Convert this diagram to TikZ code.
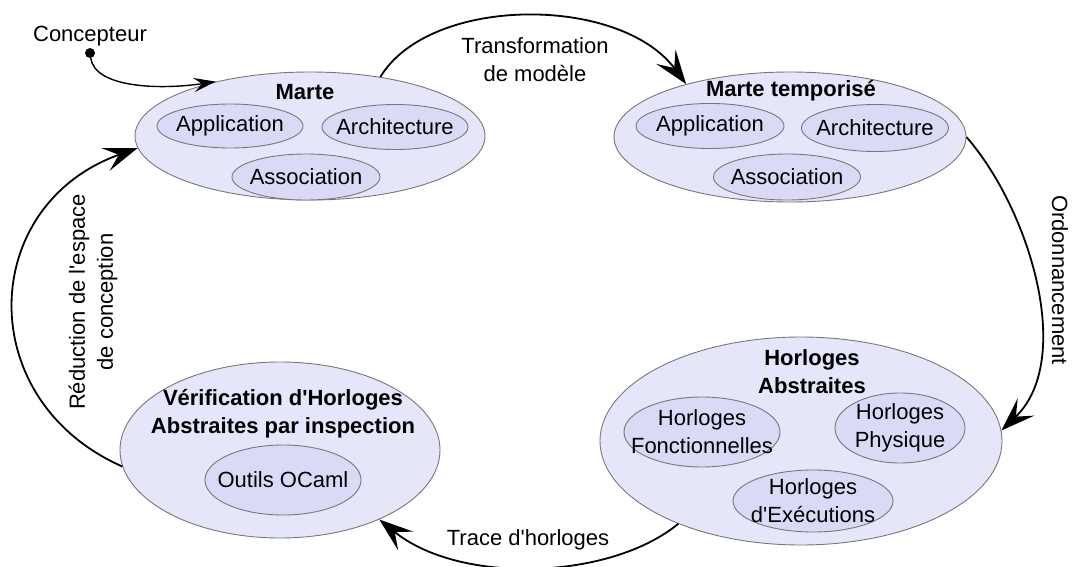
\documentclass[tikz,border=0pt]{standalone}
\usepackage{fontspec}
\setmainfont{Liberation Sans}[Ligatures=TeXOff]
\usetikzlibrary{arrows.meta,shapes.geometric}
\definecolor{outerfill}{RGB}{230,230,250}
\definecolor{innerfill}{RGB}{218,218,246}
\definecolor{edgegray}{RGB}{120,120,120}
\begin{document}
\begin{tikzpicture}[x=1pt,y=-1pt,
  font=\fontsize{22}{28}\selectfont,
  outer/.style={ellipse, draw=edgegray, fill=outerfill, line width=0.9pt, inner sep=0pt},
  innerel/.style={ellipse, draw=edgegray, fill=innerfill, line width=0.9pt, inner sep=0pt},
  title/.style={font=\fontsize{22}{28}\selectfont\bfseries, align=center, inner sep=0pt},
  txt/.style={align=center, inner sep=0pt},
  flow/.style={line width=1.8pt, -{Stealth[length=34pt,width=24pt,inset=14pt]}},
  feed/.style={line width=1.4pt, -{Stealth[length=22pt,width=14pt,inset=8pt]}}
]
\useasboundingbox (0,0) rectangle (1072,567);

% Marte
\node[outer, minimum width=350pt, minimum height=128pt] (marte) at (310,136) {};
\node[title] (martet) at (305,92) {Marte};
\node[innerel, minimum width=146pt, minimum height=44pt, label={[txt]center:Application}] (mapp) at (230,126) {};
\node[innerel, minimum width=146pt, minimum height=45pt, label={[txt]center:Architecture}] (march) at (395,127) {};
\node[innerel, minimum width=148pt, minimum height=46pt, label={[txt]center:Association}] (massoc) at (306,177) {};

% Marte temporise
\node[outer, minimum width=352pt, minimum height=130pt] (mt) at (790,137) {};
\node[title] (mtt) at (791,91) {Marte temporisé};
\node[innerel, minimum width=148pt, minimum height=45pt, label={[txt]center:Application}] (tapp) at (710,126) {};
\node[innerel, minimum width=147pt, minimum height=47pt, label={[txt]center:Architecture}] (tarch) at (875,128) {};
\node[innerel, minimum width=147pt, minimum height=46pt, label={[txt]center:Association}] (tassoc) at (787,177) {};

% Horloges Abstraites
\node[outer, minimum width=402pt, minimum height=208pt] (ha) at (801,441) {};
\node[title] (hat) at (812,372) {Horloges\\Abstraites};
\node[innerel, minimum width=156pt, minimum height=70pt, label={[txt]center:Horloges\\Fonctionnelles}] (hfonc) at (702,432) {};
\node[innerel, minimum width=130pt, minimum height=70pt, label={[txt]center:Horloges\\Physique}] (hphys) at (900,428) {};
\node[innerel, minimum width=160pt, minimum height=62pt, label={[txt]center:Horloges\\d'Exécutions}] (hexec) at (813,501) {};

% Verification
\node[outer, minimum width=320pt, minimum height=176pt] (ver) at (280,450) {};
\node[title] (vert) at (283,414) {Vérification d'Horloges\\Abstraites par inspection};
\node[innerel, minimum width=156pt, minimum height=70pt, label={[txt]center:Outils OCaml}] (vocaml) at (283,480) {};

% Concepteur
\node[circle, fill=black, inner sep=0pt, minimum size=10pt] (dot) at (90,53) {};
\node[txt] (conc) at (90,36) {Concepteur};
\draw[feed] (dot) .. controls (95,88) and (160,90) .. (marte.150);

% Connectors
\draw[flow] (marte.40) .. controls (430,-5) and (620,-5) .. (mt.153);
\node[txt] (tlab) at (535,60) {Transformation\\de modèle};

\draw[flow] (mt.0) .. controls (1030,210) and (1075,360) .. (ha.3);
\node[txt, rotate=-90] (olab) at (1060,280) {Ordonnancement};

\draw[flow] (ha.214) .. controls (610,580) and (460,585) .. (ver.325);
\node[txt] (trlab) at (528,540) {Trace d'horloges};

\draw[flow] (ver.186) .. controls (-28,400) and (-22,205) .. (marte.184);
\node[txt, rotate=90] (rlab) at (93,302) {Réduction de l'espace\\de conception};
\end{tikzpicture}
\end{document}
